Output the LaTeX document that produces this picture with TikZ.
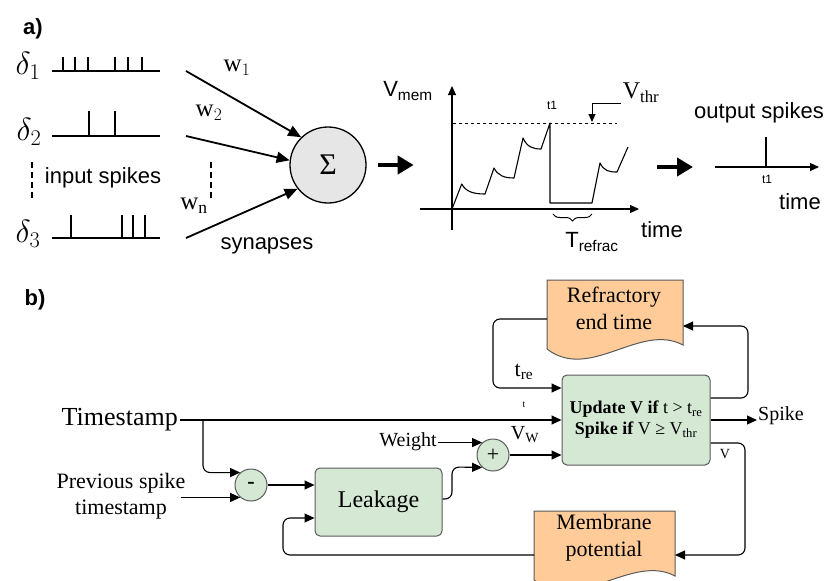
\RequirePackage{fix-cm}
\documentclass[tikz,border=0pt]{standalone}
\usepackage{fontspec}
\setmainfont{Liberation Serif}
\setsansfont{Liberation Sans}
\usetikzlibrary{arrows.meta,decorations.pathreplacing}
\definecolor{gfill}{HTML}{D5E8D4}
\definecolor{ofill}{HTML}{FFCC99}
\definecolor{bord}{HTML}{5A5A5A}
\definecolor{sfill}{HTML}{E6E6E6}
\newcommand{\fs}[2]{\fontsize{#1}{#2}\selectfont}
\tikzset{
 train/.style={line width=1.8pt},
 synarrow/.style={line width=1.8pt,-{Triangle[length=13pt,width=11pt]}},
 bigarrow/.style={line width=4pt,-{Triangle[length=16pt,width=18pt]}},
 axisarrow/.style={line width=1.2pt,-{Triangle[length=9pt,width=8pt]}},
 dashv/.style={line width=1.5pt,dash pattern=on 6pt off 4pt},
 sanslab/.style={font=\sffamily\fs{22}{26}, inner sep=1pt},
 serlab/.style={font=\fs{25}{28}, inner sep=1pt},
 flow/.style={line width=1.1pt,-{Triangle[length=10pt,width=9pt]}, rounded corners=7pt},
 gbox/.style={draw=bord, fill=gfill, line width=1pt, rounded corners=5pt, inner sep=0pt},
 gcirc/.style={circle, draw=bord, fill=gfill, line width=1pt, minimum size=32pt, inner sep=0pt},
 docshape/.style={draw=bord, fill=ofill, line width=1pt},
}
\begin{document}
\begin{tikzpicture}[x=1pt,y=-1pt]
\useasboundingbox (0,0) rectangle (830,581);
\fill[white] (0,0) rectangle (830,581);

% ---------- part a ----------
\node[font=\sffamily\bfseries\fs{22}{24}] (alab) at (33,29) {a)};
\node[font=\fs{32}{34}] (d1) at (28,66) {$\delta_1$};
\node[font=\fs{32}{34}] (d2) at (29,132) {$\delta_2$};
\node[font=\fs{32}{34}] (d3) at (28,234) {$\delta_3$};

\draw[train] (52,71) -- (160,71);
\foreach \x in {63,75,88,115,128,142} \draw[train] (\x,71) -- (\x,57);
\draw[train] (52,136) -- (160,136);
\foreach \x in {89,115} \draw[train] (\x,136) -- (\x,111);
\draw[train] (52,238) -- (160,238);
\foreach \x in {71,122,133,145} \draw[train] (\x,238) -- (\x,215);

\draw[dashv] (32,162) -- (32,200);
\node[sanslab] (inlab) at (103,178) {input spikes};
\draw[dashv] (211,162) -- (211,200);

\node[circle, draw, fill=sfill, line width=1.3pt, minimum size=76pt, inner sep=0pt] (sigma) at (328,165) {\fs{30}{30}Σ};

\coordinate (w1s) at (186,71);
\coordinate (w2s) at (186,136);
\coordinate (wns) at (186,238);
\draw[synarrow] (w1s) -- (sigma.134);
\draw[synarrow] (w2s) -- (sigma.173);
\draw[synarrow] (wns) -- (sigma.-142);
\node[serlab] (w1lab) at (237,68) {w$_1$};
\node[serlab] (w2lab) at (209,113) {w$_2$};
\node[serlab] (wnlab) at (194,206) {w$_\mathrm{n}$};
\node[sanslab] (synlab) at (267,246) {synapses};

\draw[bigarrow] ([xshift=11pt]sigma.east) -- ++(36,0);

% membrane plot
\coordinate (orig) at (452,209);
\draw[axisarrow] (452,230) -- (452,86);
\draw[axisarrow] (420,209) -- (639,209);
\node[sanslab] (vmem) at (408,91) {V\textsubscript{mem}};
\draw[dashed, line width=0.9pt] (453,123) -- (617,123);
\draw[line width=1.1pt, line join=round] (orig) -- (461.7,184) .. controls (466,192) and (474,194) .. (485,194)
  -- (494,168) .. controls (498,176) and (505,178) .. (514,178)
  -- (523,138) .. controls (527,147) and (533,149) .. (541,149)
  -- (550,123) -- (550,203) -- (592,203)
  -- (600,163) .. controls (604,171) and (609,172) .. (617,172) -- (628,147);
\node[font=\sffamily\fs{12}{14}] (t1a) at (552,105) {t1};
\node[font=\fs{24}{26}, inner sep=1pt] (vthr) at (641,93) {V\textsubscript{thr}};
\draw[line width=1pt, -{Triangle[length=8pt,width=7pt]}] (621,103) -- (592,103) -- (592,122);
\draw[line width=1pt, decorate, decoration={brace, amplitude=7pt}] (592,214) -- (553,214);
\node[sanslab] (timea) at (662,230) {time};
\node[sanslab] (trefrac) at (592,242) {T\textsubscript{refrac}};

\draw[bigarrow] (657,167) -- (693,167);
\draw[axisarrow] (715,167) -- (819,167);
\draw[line width=1.1pt] (766,167) -- (766,137);
\node[sanslab] (outlab) at (759,113) {output spikes};
\node[font=\sffamily\fs{12}{14}] (t1b) at (767,179) {t1};
\node[sanslab] (timeb) at (800,202) {time};

% ---------- part b ----------
\node[font=\sffamily\bfseries\fs{22}{24}] (blab) at (35,300) {b)};

\node[font=\fs{26}{28}, anchor=east, inner sep=2pt] (ts) at (180,420) {Timestamp};
\node[font=\fs{22}{26}, align=center, inner sep=1pt] (prev) at (121,496) {Previous spike\\timestamp};

\node[gcirc] (minus) at (251,485) {\bfseries\fs{22}{22}-};
\node[gbox, minimum width=127pt, minimum height=68pt, font=\fs{24}{26}] (leak) at (378.5,502) {Leakage};
\node[font=\fs{20}{22}, inner sep=1pt] (weight) at (408,442) {Weight};
\node[gcirc] (plus) at (493,455) {\fs{22}{22}+};
\node[gbox, minimum width=148pt, minimum height=90pt, align=center, font=\fs{18}{21}] (upd) at (636,420)
  {{\bfseries Update V if} t > t\textsubscript{re}\\{\bfseries Spike if} V ≥ V\textsubscript{thr}};

% documents
\draw[docshape] (547,280) -- (683,280) -- (683,345) .. controls (640,322) and (590,382) .. (547,349) -- cycle;
\node[font=\fs{22}{27}, align=center, inner sep=0pt] (refr) at (614,308) {Refractory\\end time};
\draw[docshape] (534,511) -- (675,511) -- (675,576) .. controls (632,553) and (580,613) .. (534,580) -- cycle;
\node[font=\fs{22}{27}, align=center, inner sep=0pt] (memb) at (604,538) {Membrane\\potential};
\coordinate (refrL) at (547,319);
\coordinate (refrR) at (683,326);
\coordinate (membL) at (534,555);
\coordinate (membR) at (675,555);
\coordinate (branch) at (203,420);

% connectors
\draw[flow] (ts.east) -- (upd.west |- ts.east);
\node[font=\fs{10}{12}] (tlab) at (524,405) {t};
\draw[flow] (branch) -- (branch |- minus.131) -- (minus.131);
\draw[flow] ([xshift=-6pt]prev.east |- minus.229) -- (minus.229);
\draw[flow] (minus.east) -- (leak.west |- minus.east);
\draw[flow] (membL) -- (283,555) -- (283,518) -- ([yshift=-16pt]leak.west);
\draw[flow] ([yshift=3pt]leak.east) -- (452,499) -- (452,467) -- (plus.229);
\draw[flow] (weight.east |- plus.131) -- (plus.131);
\draw[flow] (plus.east) -- (upd.west |- plus.east);
\node[font=\fs{20}{22}, inner sep=0pt] (vwlab) at (525,435) {V\textsubscript{W}};
\draw[flow] (refrL) -- (493,319) -- (493,388) -- ([yshift=32pt]upd.west);
\node[font=\fs{22}{24}, inner sep=0pt] (trelab) at (524,372) {t\textsubscript{re}};
\draw[flow] ([yshift=22pt]upd.east) -- (748,398) -- (748,326) -- (refrR);
\node[font=\fs{20}{22}, inner sep=1pt, anchor=west] (spike) at (757,416) {Spike};
\draw[flow] (upd.east) -- (spike.west |- upd.east);
\draw[flow] ([yshift=-23pt]upd.east) -- (745,443) -- (745,555) -- (membR);
\node[font=\fs{14}{16}, inner sep=0pt] (vlab) at (725,454) {V};
\end{tikzpicture}
\end{document}
